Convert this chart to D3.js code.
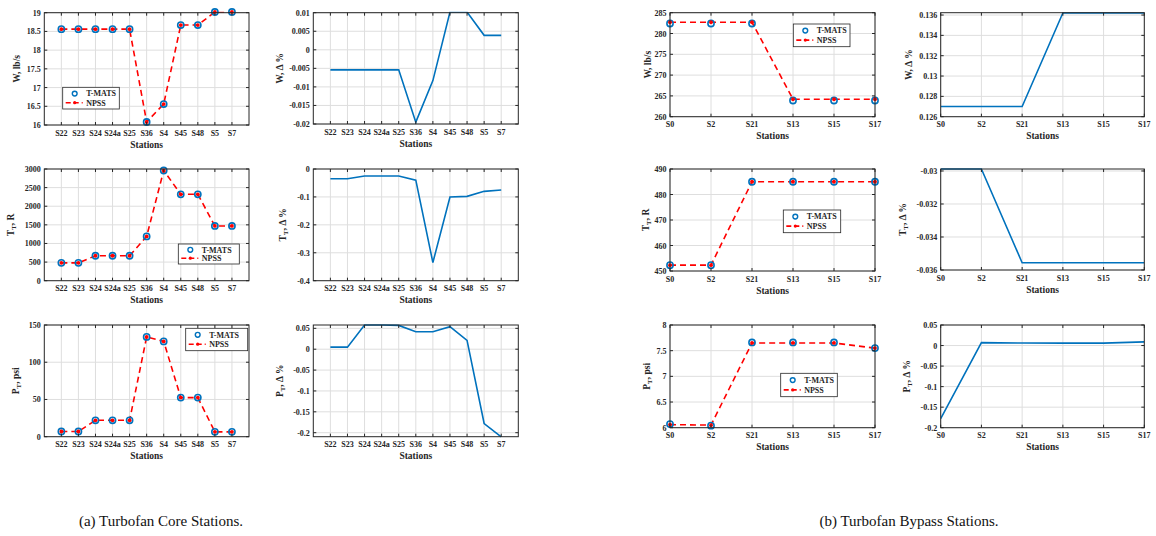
<!DOCTYPE html>
<html><head><meta charset="utf-8">
<script src="https://cdn.jsdelivr.net/npm/d3@7"></script>
<style>
body{margin:0;background:#fff;}
</style></head>
<body><svg id="c" width="1156" height="536" font-family="'Liberation Serif','Times New Roman','DejaVu Serif',serif"></svg>
<script>
// ---------- data ----------
const coreStations = ["S22","S23","S24","S24a","S25","S36","S4","S45","S48","S5","S7"];
const bypassStations = ["S0","S2","S21","S13","S15","S17"];

const coreW_TMATS = [18.56,18.56,18.56,18.56,18.56,16.08,16.56,18.67,18.67,19.02,19.02];
const coreW_NPSS  = [18.56,18.56,18.56,18.56,18.56,16.08,16.56,18.67,18.67,19.02,19.02];
const coreW_Delta = [-0.0054,-0.0054,-0.0054,-0.0054,-0.0054,-0.0195,-0.0083,0.0102,0.0102,0.0039,0.0039];

const coreT_TMATS = [480,480,670,670,670,1190,2960,2320,2320,1470,1470];
const coreT_NPSS  = [480,480,670,670,670,1190,2960,2320,2320,1470,1470];
const coreT_Delta = [-0.035,-0.035,-0.025,-0.025,-0.025,-0.04,-0.335,-0.1,-0.098,-0.08,-0.075];

const coreP_TMATS = [7,7,22,22,22,134,128,52.5,52.5,6.5,6.5];
const coreP_NPSS  = [7,7,22,22,22,134,128,52.5,52.5,6.5,6.5];
const coreP_Delta = [0.005,0.005,0.058,0.058,0.057,0.042,0.042,0.054,0.021,-0.178,-0.21];

const bypW_TMATS = [282.4,282.4,282.4,263.9,263.9,263.9];
const bypW_NPSS  = [282.7,282.7,282.7,264.2,264.2,264.2];
const bypW_Delta = [0.127,0.127,0.127,0.1362,0.1362,0.1362];

const bypT_TMATS = [452.3,452.3,485,485,485,485];
const bypT_NPSS  = [452.3,452.3,485,485,485,485];
const bypT_Delta = [-0.02988,-0.02988,-0.03556,-0.03556,-0.03556,-0.03556];

const bypP_TMATS = [6.07,6.04,7.66,7.66,7.66,7.55];
const bypP_NPSS  = [6.06,6.05,7.65,7.65,7.65,7.55];
const bypP_Delta = [-0.178,0.007,0.006,0.006,0.006,0.009];

const ticksCoreW = [16,16.5,17,17.5,18,18.5,19];
const ticksCoreWD = [-0.02,-0.015,-0.01,-0.005,0,0.005,0.01];
const ticksCoreT = [0,500,1000,1500,2000,2500,3000];
const ticksCoreTD = [-0.4,-0.3,-0.2,-0.1,0];
const ticksCoreP = [0,50,100,150];
const ticksCorePD = [-0.2,-0.15,-0.1,-0.05,0,0.05];
const ticksBypW = [260,265,270,275,280,285];
const ticksBypWD = [0.126,0.128,0.13,0.132,0.134,0.136];
const ticksBypT = [450,460,470,480,490];
const ticksBypTD = [-0.036,-0.034,-0.032,-0.03];
const ticksBypP = [6,6.5,7,7.5,8];
const ticksBypPD = [-0.2,-0.15,-0.1,-0.05,0,0.05];

const legendLabels = ["T-MATS","NPSS"];
const captions = ["(a)  Turbofan Core Stations.","(b)  Turbofan Bypass Stations."];

// ---------- drawing ----------
const svg = d3.select("#c");
const BLUE = "#0072BD", RED = "#FF0000", GRID = "#dedede", AX = "#262626";
let clipId = 0;

function fmt(v){ return String(+v.toFixed(6)); }

function ylabelText(g, main, sub, rest){
  const t = g.append("text");
  t.append("tspan").text(main);
  if (sub){
    t.append("tspan").attr("baseline-shift","-35%").attr("font-size","7px").text(sub);
  }
  t.append("tspan").text(rest);
  return t;
}

function panel(o){
  const g = svg.append("g");
  const n = o.cats.length;
  const x = o.pad ? d3.scaleLinear().domain([0,n+1]).range([o.x0,o.x1])
                  : d3.scaleLinear().domain([0,n-1]).range([o.x0,o.x1]);
  const xi = i => o.pad ? x(i+1) : x(i);
  const y = d3.scaleLinear().domain(o.yDomain).range([o.y1,o.y0]);
  const xTickVals = o.cats.map((c,i)=> o.pad ? i+1 : i);

  g.append("g").selectAll("line").data(xTickVals).join("line")
    .attr("x1",d=>x(d)).attr("x2",d=>x(d)).attr("y1",o.y0).attr("y2",o.y1)
    .attr("stroke",GRID).attr("stroke-width",1);
  g.append("g").selectAll("line").data(o.yTicks).join("line")
    .attr("x1",o.x0).attr("x2",o.x1).attr("y1",d=>y(d)).attr("y2",d=>y(d))
    .attr("stroke",GRID).attr("stroke-width",1);

  const cid = "clip"+(clipId++);
  svg.append("clipPath").attr("id",cid).append("rect")
    .attr("x",o.x0).attr("y",o.y0-1).attr("width",o.x1-o.x0).attr("height",o.y1-o.y0+2);
  const pg = g.append("g").attr("clip-path",`url(#${cid})`);

  const line = d3.line().x((d,i)=>xi(i)).y(d=>y(d));
  if (o.delta){
    pg.append("path").attr("d",line(o.delta)).attr("fill","none")
      .attr("stroke",BLUE).attr("stroke-width",1.6);
  } else {
    pg.append("path").attr("d",line(o.npss)).attr("fill","none")
      .attr("stroke",RED).attr("stroke-width",1.6).attr("stroke-dasharray","6,4");
    g.append("g").selectAll("circle").data(o.tmats).join("circle")
      .attr("cx",(d,i)=>xi(i)).attr("cy",d=>y(d)).attr("r",3.1)
      .attr("fill","none").attr("stroke",BLUE).attr("stroke-width",1.6);
    g.append("g").selectAll("circle").data(o.npss).join("circle")
      .attr("cx",(d,i)=>xi(i)).attr("cy",d=>y(d)).attr("r",1.9)
      .attr("fill",RED);
  }

  g.append("rect").attr("x",o.x0).attr("y",o.y0).attr("width",o.x1-o.x0).attr("height",o.y1-o.y0)
    .attr("fill","none").attr("stroke",AX).attr("stroke-width",1);
  const tl = 3;
  g.append("g").selectAll("line").data(xTickVals).join("line")
    .attr("x1",d=>x(d)).attr("x2",d=>x(d)).attr("y1",o.y1).attr("y2",o.y1-tl).attr("stroke",AX);
  g.append("g").selectAll("line").data(xTickVals).join("line")
    .attr("x1",d=>x(d)).attr("x2",d=>x(d)).attr("y1",o.y0).attr("y2",o.y0+tl).attr("stroke",AX);
  g.append("g").selectAll("line").data(o.yTicks).join("line")
    .attr("x1",o.x0).attr("x2",o.x0+tl).attr("y1",d=>y(d)).attr("y2",d=>y(d)).attr("stroke",AX);
  g.append("g").selectAll("line").data(o.yTicks).join("line")
    .attr("x1",o.x1).attr("x2",o.x1-tl).attr("y1",d=>y(d)).attr("y2",d=>y(d)).attr("stroke",AX);

  g.append("g").selectAll("text").data(o.cats).join("text")
    .attr("x",(d,i)=>xi(i)).attr("y",o.y1+10.5).attr("text-anchor","middle")
    .attr("font-size","8px").attr("font-weight","bold").attr("fill","#262626").text(d=>d);
  g.append("g").selectAll("text").data(o.yTicks).join("text")
    .attr("x",o.x0-3.5).attr("y",d=>y(d)+3).attr("text-anchor","end")
    .attr("font-size","8px").attr("font-weight","bold").attr("fill","#262626").text(fmt);

  g.append("text").attr("x",(o.x0+o.x1)/2).attr("y",o.y1+22.5).attr("text-anchor","middle")
    .attr("font-size","9.5px").attr("font-weight","bold").attr("fill","#262626").text("Stations");
  const yl = g.append("g").attr("transform",`translate(${o.ylx},${(o.y0+o.y1)/2}) rotate(-90)`);
  ylabelText(yl,o.yl[0],o.yl[1],o.yl[2]).attr("text-anchor","middle")
    .attr("font-size","9.5px").attr("font-weight","bold").attr("fill","#262626");

  if (o.leg){
    const [lx,ly,lw,lh] = o.leg;
    const lg = g.append("g");
    lg.append("rect").attr("x",lx).attr("y",ly).attr("width",lw).attr("height",lh)
      .attr("fill","#fff").attr("stroke",AX).attr("stroke-width",0.8);
    const r1 = ly+lh*0.29, r2 = ly+lh*0.71;
    lg.append("circle").attr("cx",lx+12).attr("cy",r1).attr("r",2.4)
      .attr("fill","none").attr("stroke",BLUE).attr("stroke-width",1.4);
    lg.append("line").attr("x1",lx+3).attr("x2",lx+20).attr("y1",r2).attr("y2",r2)
      .attr("stroke",RED).attr("stroke-width",1.6).attr("stroke-dasharray","5,3");
    lg.append("circle").attr("cx",lx+12).attr("cy",r2).attr("r",1.6).attr("fill",RED);
    lg.selectAll("text.l").data(legendLabels).join("text")
      .attr("x",lx+23.5).attr("y",(d,i)=> (i?r2:r1)+2.8)
      .attr("font-size","8px").attr("font-weight","bold").attr("fill","#262626").text(d=>d);
  }
}

const CL = {x0:44.3,x1:249}, CR = {x0:313.3,x1:518.3};
const BL = {x0:670,x1:875}, BR = {x0:940.7,x1:1144.3};

panel({...CL,y0:12.7,y1:125,cats:coreStations,pad:true,yDomain:[16,19],yTicks:ticksCoreW,
  tmats:coreW_TMATS,npss:coreW_NPSS,ylx:20,yl:["W, lb/s","",""],leg:[62.7,87.3,56.6,21.7]});
panel({...CR,y0:12.7,y1:124,cats:coreStations,pad:true,yDomain:[-0.02,0.01],yTicks:ticksCoreWD,
  delta:coreW_Delta,ylx:283,yl:["W, Δ %","",""]});
panel({...CL,y0:169,y1:280.7,cats:coreStations,pad:true,yDomain:[0,3000],yTicks:ticksCoreT,
  tmats:coreT_TMATS,npss:coreT_NPSS,ylx:14,yl:["T","T",", R"],leg:[178.3,244,61,20]});
panel({...CR,y0:169,y1:280.7,cats:coreStations,pad:true,yDomain:[-0.4,0],yTicks:ticksCoreTD,
  delta:coreT_Delta,ylx:286,yl:["T","T",", Δ %"]});
panel({...CL,y0:325,y1:436.7,cats:coreStations,pad:true,yDomain:[0,150],yTicks:ticksCoreP,
  tmats:coreP_TMATS,npss:coreP_NPSS,ylx:19,yl:["P","T",", psi"],leg:[185.7,328.3,62,22.4]});
panel({...CR,y0:325,y1:436.7,cats:coreStations,pad:true,yDomain:[-0.2096,0.058],yTicks:ticksCorePD,
  delta:coreP_Delta,ylx:283,yl:["P","T",", Δ %"]});

panel({...BL,y0:12.7,y1:116.7,cats:bypassStations,pad:false,yDomain:[260,285],yTicks:ticksBypW,
  tmats:bypW_TMATS,npss:bypW_NPSS,ylx:651,yl:["W, lb/s","",""],leg:[793.3,24,56.7,22.7]});
panel({...BR,y0:12.7,y1:116.7,cats:bypassStations,pad:false,yDomain:[0.126,0.13623],yTicks:ticksBypWD,
  delta:bypW_Delta,ylx:912,yl:["W, Δ %","",""]});
panel({...BL,y0:169,y1:271,cats:bypassStations,pad:false,yDomain:[450,490],yTicks:ticksBypT,
  tmats:bypT_TMATS,npss:bypT_NPSS,ylx:649,yl:["T","T",", R"],leg:[783.3,210,57.4,22.7]});
panel({...BR,y0:169,y1:270,cats:bypassStations,pad:false,yDomain:[-0.036,-0.02988],yTicks:ticksBypTD,
  delta:bypT_Delta,ylx:906,yl:["T","T",", Δ %"]});
panel({...BL,y0:325,y1:427.7,cats:bypassStations,pad:false,yDomain:[6,8],yTicks:ticksBypP,
  tmats:bypP_TMATS,npss:bypP_NPSS,ylx:650,yl:["P","T",", psi"],leg:[780.7,373.3,56.6,23.4]});
panel({...BR,y0:325,y1:427.7,cats:bypassStations,pad:false,yDomain:[-0.2,0.05],yTicks:ticksBypPD,
  delta:bypP_Delta,ylx:910,yl:["P","T",", Δ %"]});

svg.selectAll("text.cap").data(captions).join("text")
  .attr("x",(d,i)=> i ? 909 : 161).attr("y",526).attr("text-anchor","middle")
  .attr("font-size","15px").attr("fill","#111").text(d=>d);
</script></body></html>
